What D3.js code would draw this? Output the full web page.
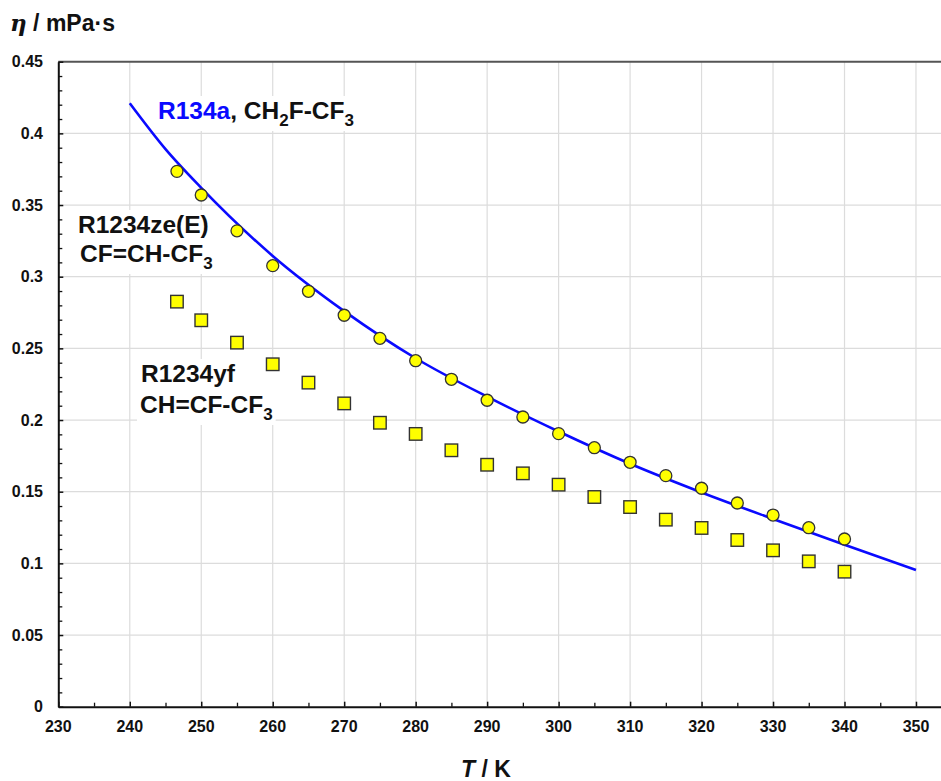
<!DOCTYPE html>
<html>
<head>
<meta charset="utf-8">
<script src="https://cdn.jsdelivr.net/npm/d3@7/dist/d3.min.js"></script>
<style>
  html, body { margin: 0; padding: 0; background: #fff; }
  svg { display: block; }
  text { font-family: "Liberation Sans", Arial, Helvetica, sans-serif; }
</style>
</head>
<body>
<svg id="chart" width="941" height="781"></svg>
<script>
// Dynamic viscosity of saturated liquid refrigerants vs temperature

// R134a correlation curve (T in K, eta in mPa·s)
const r134aT   = [240, 245, 250, 260, 270, 280, 290, 300, 310, 320, 330, 340, 350];
const r134aEta = [0.421, 0.389, 0.362, 0.3145, 0.276, 0.2431, 0.2163, 0.192, 0.1695, 0.1495, 0.131, 0.113, 0.0954];

// measured points, shared temperatures
const pointT = [246.6, 250, 255, 260, 265, 270, 275, 280, 285, 290, 295, 300, 305, 310, 315, 320, 325, 330, 335, 340];
// R1234ze(E) – circles
const zeEta = [0.3735, 0.357, 0.332, 0.3077, 0.2898, 0.2731, 0.257, 0.2414, 0.2284, 0.2138, 0.2021, 0.1905, 0.1807, 0.1705, 0.1612, 0.1524, 0.1421, 0.1337, 0.1249, 0.117];
// R1234yf – squares
const yfEta = [0.2826, 0.2696, 0.254, 0.2389, 0.2261, 0.2116, 0.1981, 0.1903, 0.1789, 0.1688, 0.1628, 0.1549, 0.1463, 0.1393, 0.1305, 0.1247, 0.1163, 0.1091, 0.1014, 0.0942];

// axis ticks
const xTicks = [230, 240, 250, 260, 270, 280, 290, 300, 310, 320, 330, 340, 350];
const yTicks = [0, 0.05, 0.1, 0.15, 0.2, 0.25, 0.3, 0.35, 0.4, 0.45];
const xMinor = d3.range(235, 355, 10);
const yMinor = d3.range(1, 45).filter(k => k % 5 !== 0).map(k => k / 100);

const svg = d3.select("#chart");

const x = d3.scaleLinear().domain([230, 353.5]).range([58.3, 941]);
const y = d3.scaleLinear().domain([0, 0.45]).range([706.7, 61.7]);

const plotL = x(230), plotR = x(353.5), plotB = y(0), plotT = y(0.45);

// grid
const grid = svg.append("g").attr("stroke", "#dcdcdc").attr("stroke-width", 1.2);
grid.selectAll("line.v").data(xTicks.filter(t => t > 230)).join("line").attr("class", "v")
  .attr("x1", d => x(d)).attr("x2", d => x(d))
  .attr("y1", plotT).attr("y2", plotB);
grid.selectAll("line.h").data(yTicks.filter(t => t > 0 && t < 0.45)).join("line").attr("class", "h")
  .attr("x1", plotL).attr("x2", plotR)
  .attr("y1", d => y(d)).attr("y2", d => y(d));

// top frame
svg.append("line").attr("x1", plotL).attr("x2", plotR).attr("y1", plotT).attr("y2", plotT)
  .attr("stroke", "#555").attr("stroke-width", 2);

// axes with inward ticks
const gx = svg.append("g").attr("transform", `translate(0,${plotB})`)
  .call(d3.axisBottom(x).tickValues(xTicks).tickSizeInner(-5).tickSizeOuter(0).tickFormat(""));
gx.select(".domain").attr("stroke", "#111").attr("stroke-width", 2);
gx.selectAll(".tick line").attr("stroke", "#111").attr("stroke-width", 1.5);
const gxm = svg.append("g").attr("transform", `translate(0,${plotB})`)
  .call(d3.axisBottom(x).tickValues(xMinor).tickSizeInner(-4).tickSizeOuter(0).tickFormat(""));
gxm.select(".domain").remove();
gxm.selectAll(".tick line").attr("stroke", "#111").attr("stroke-width", 1.3);

const gy = svg.append("g").attr("transform", `translate(${plotL},0)`)
  .call(d3.axisLeft(y).tickValues(yTicks).tickSizeInner(-5).tickSizeOuter(0).tickFormat(""));
gy.select(".domain").attr("stroke", "#111").attr("stroke-width", 2);
gy.selectAll(".tick line").attr("stroke", "#111").attr("stroke-width", 1.5);
const gym = svg.append("g").attr("transform", `translate(${plotL},0)`)
  .call(d3.axisLeft(y).tickValues(yMinor).tickSizeInner(-4).tickSizeOuter(0).tickFormat(""));
gym.select(".domain").remove();
gym.selectAll(".tick line").attr("stroke", "#111").attr("stroke-width", 1.3);

// tick labels
svg.append("g").selectAll("text").data(xTicks).join("text")
  .attr("x", d => x(d)).attr("y", 732)
  .attr("text-anchor", "middle").attr("font-size", 16).attr("font-weight", "bold").attr("fill", "#111")
  .text(d => d);
svg.append("g").selectAll("text").data(yTicks).join("text")
  .attr("x", 43).attr("y", d => y(d)).attr("dy", "0.35em")
  .attr("text-anchor", "end").attr("font-size", 16).attr("font-weight", "bold").attr("fill", "#111")
  .text(d => String(+d.toFixed(2)));

// axis titles
const yt = svg.append("text").attr("x", 10).attr("y", 31).attr("font-size", 23).attr("font-weight", "bold").attr("fill", "#111");
yt.append("tspan").attr("font-style", "italic").attr("font-family", "'DejaVu Serif', 'Liberation Serif', serif").text("η");
yt.append("tspan").text(" / mPa·s");
const xt = svg.append("text").attr("x", 486).attr("y", 777).attr("text-anchor", "middle")
  .attr("font-size", 23).attr("font-weight", "bold").attr("fill", "#111");
xt.append("tspan").attr("font-style", "italic").text("T");
xt.append("tspan").text(" / K");

// text labels on white boxes; parts are [text, isSubscript, colour]
const SUB = 7;
function label(lines) {
  const g = svg.append("g");
  const bg = g.append("rect").attr("fill", "#fff");
  lines.forEach(l => {
    const t = g.append("text").attr("x", l.x).attr("y", l.y)
      .attr("font-size", 24.5).attr("font-weight", "bold").attr("fill", "#111");
    let down = false;
    l.parts.forEach(([s, sub, col]) => {
      const ts = t.append("tspan").text(s);
      if (col) ts.attr("fill", col);
      if (sub) { ts.attr("font-size", 17).attr("dy", down ? 0 : SUB); down = true; }
      else { ts.attr("dy", down ? -SUB : 0); down = false; }
    });
  });
  const b = g.node().getBBox();
  bg.attr("x", b.x - 3).attr("y", b.y - 1).attr("width", b.width + 6).attr("height", b.height + 2);
}

label([{ x: 158, y: 119, parts: [["R134a", false, "#0a0aff"], [", CH"], ["2", true], ["F-CF"], ["3", true]] }]);
label([
  { x: 78, y: 233, parts: [["R1234ze(E)"]] },
  { x: 80, y: 262, parts: [["CF=CH-CF"], ["3", true]] }
]);
label([
  { x: 141, y: 382, parts: [["R1234yf"]] },
  { x: 140, y: 413, parts: [["CH=CF-CF"], ["3", true]] }
]);

// R134a curve
const line = d3.line().x((d, i) => x(r134aT[i])).y(d => y(d)).curve(d3.curveMonotoneX);
svg.append("path").datum(r134aEta).attr("d", line)
  .attr("fill", "none").attr("stroke", "#0a0aff").attr("stroke-width", 2.6);

// R1234yf squares
const sq = 12.5;
svg.append("g").selectAll("rect").data(yfEta).join("rect")
  .attr("x", (d, i) => x(pointT[i]) - sq / 2).attr("y", d => y(d) - sq / 2)
  .attr("width", sq).attr("height", sq)
  .attr("fill", "#ffff00").attr("stroke", "#333").attr("stroke-width", 1.4);

// R1234ze(E) circles
svg.append("g").selectAll("circle").data(zeEta).join("circle")
  .attr("cx", (d, i) => x(pointT[i])).attr("cy", d => y(d)).attr("r", 6)
  .attr("fill", "#ffff00").attr("stroke", "#333").attr("stroke-width", 1.3);
</script>
</body>
</html>
